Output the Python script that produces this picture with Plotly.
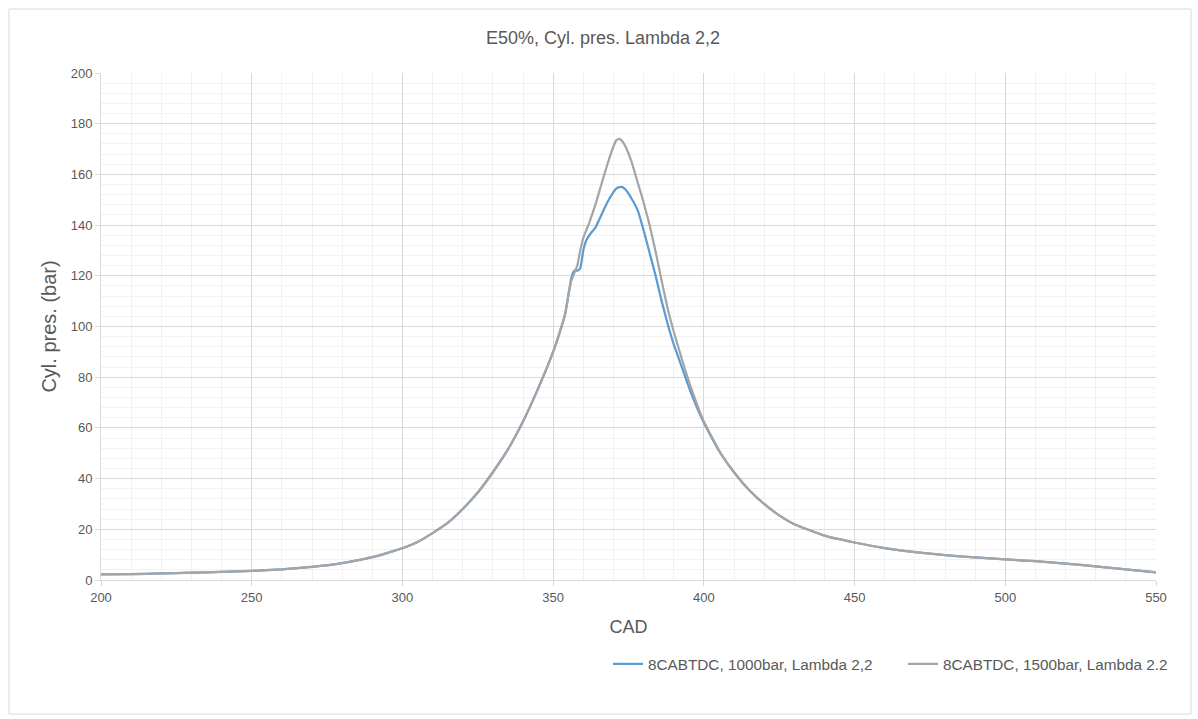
import plotly.graph_objects as go

cad = [200, 210, 220, 230, 240, 250, 260, 270, 280, 290, 300, 305, 310, 315, 320,
       325, 330, 335, 340, 345, 350, 352, 354, 355, 356, 357, 358, 359, 360, 361,
       362, 364, 366, 368, 370, 371, 372, 373, 374, 376, 378, 380, 382, 384, 386,
       388, 390, 393, 396, 400, 405, 410, 415, 420, 425, 430, 440, 450, 460, 470,
       480, 490, 500, 510, 520, 530, 540, 550]

p_1000 = [2.2, 2.3, 2.6, 2.9, 3.2, 3.6, 4.2, 5.2, 6.7, 9.0, 12.5, 15.0, 18.5, 22.5, 28.0,
          34.5, 42.5, 51.5, 62.5, 75.5, 90.0, 97.0, 105.0, 112.0, 119.0, 122.0, 122.0, 123.0, 130.0, 134.0,
          136.0, 139.0, 144.0, 149.0, 153.0, 154.5, 155.0, 155.0, 154.0, 150.5, 146.0, 138.0, 129.0, 120.0, 110.0,
          101.0, 93.0, 83.0, 73.0, 62.0, 51.0, 42.5, 35.5, 30.0, 25.5, 22.0, 17.5, 14.8, 12.6, 11.0,
          9.8, 8.9, 8.1, 7.4, 6.5, 5.4, 4.2, 3.0]

p_1500 = [2.2, 2.3, 2.6, 2.9, 3.2, 3.6, 4.2, 5.2, 6.7, 9.0, 12.5, 15.0, 18.5, 22.5, 28.0,
          34.5, 42.5, 51.5, 62.5, 75.5, 90.0, 97.0, 105.0, 112.0, 118.0, 121.0, 124.0, 130.0, 135.0, 138.0,
          141.0, 148.0, 156.0, 164.0, 171.0, 173.5, 174.0, 173.0, 171.0, 165.0, 157.0, 149.0, 140.0, 129.5, 118.0,
          107.0, 98.0, 86.0, 75.0, 62.5, 51.2, 42.5, 35.5, 30.0, 25.5, 22.0, 17.5, 14.8, 12.6, 11.0,
          9.8, 8.9, 8.1, 7.4, 6.5, 5.4, 4.2, 3.0]

name_1000 = "8CABTDC, 1000bar, Lambda 2,2"
name_1500 = "8CABTDC, 1500bar, Lambda 2.2"
title = "E50%, Cyl. pres. Lambda 2,2"
x_title = "CAD"
y_title = "Cyl. pres. (bar)"

W, H = 1198, 719
L, R, T, B = 101, 1156, 73, 580
pw, ph = R - L, B - T


def px(x):
    return (x - L) / pw


def py(y):
    return (B - y) / ph


txt = "#595959"
fnt = "Liberation Sans, Arial, sans-serif"
gap = "\u00a0" * 6

fig = go.Figure()
fig.add_trace(go.Scatter(x=cad, y=p_1000, mode="lines", name=name_1000 + gap,
                         line=dict(color="#5B9BD5", width=2.25, shape="spline", smoothing=0.4)))
fig.add_trace(go.Scatter(x=cad, y=p_1500, mode="lines", name=name_1500,
                         line=dict(color="#A5A5A5", width=2.25, shape="spline", smoothing=0.4)))

fig.update_layout(
    width=W, height=H,
    margin=dict(l=L, r=W - R, t=T, b=H - B),
    paper_bgcolor="white", plot_bgcolor="white",
    font=dict(family=fnt, color=txt, size=13),
    title=dict(text=title, x=px(603), xanchor="center", xref="paper",
               y=1 - 38 / H, yanchor="middle", font=dict(size=18, color=txt, family=fnt)),
    showlegend=True,
    legend=dict(orientation="h", x=px(608), xanchor="left", y=py(664), yanchor="middle",
                font=dict(size=15.3, color=txt, family=fnt), bgcolor="rgba(0,0,0,0)",
                itemwidth=30, tracegroupgap=0),
    xaxis=dict(range=[200, 550], dtick=50, tick0=200, showgrid=True, gridcolor="#D9D9D9",
               gridwidth=1, zeroline=False, showline=True, linecolor="#D9D9D9", linewidth=1,
               ticks="outside", ticklen=5, tickcolor="#D9D9D9",
               tickfont=dict(size=13, color=txt, family=fnt),
               minor=dict(dtick=10, showgrid=True, gridcolor="#F2F2F2", gridwidth=1),
               title=dict(text=x_title, font=dict(size=18, color=txt, family=fnt), standoff=16)),
    yaxis=dict(range=[0, 200], dtick=20, showgrid=True, gridcolor="#D9D9D9",
               gridwidth=1, zeroline=False, showline=True, linecolor="#D9D9D9", linewidth=1,
               ticks="outside", ticklen=5, tickcolor="#D9D9D9",
               tickfont=dict(size=13, color=txt, family=fnt),
               minor=dict(dtick=4, showgrid=True, gridcolor="#F2F2F2", gridwidth=1),
               title=dict(text=y_title, font=dict(size=20, color=txt, family=fnt),
                          standoff=8)),
)

fig.add_shape(type="rect", xref="paper", yref="paper",
              x0=px(9), x1=px(1191), y0=py(714), y1=py(9),
              line=dict(color="#D9D9D9", width=1), fillcolor="rgba(0,0,0,0)", layer="below")

fig.write_html("out.html")
